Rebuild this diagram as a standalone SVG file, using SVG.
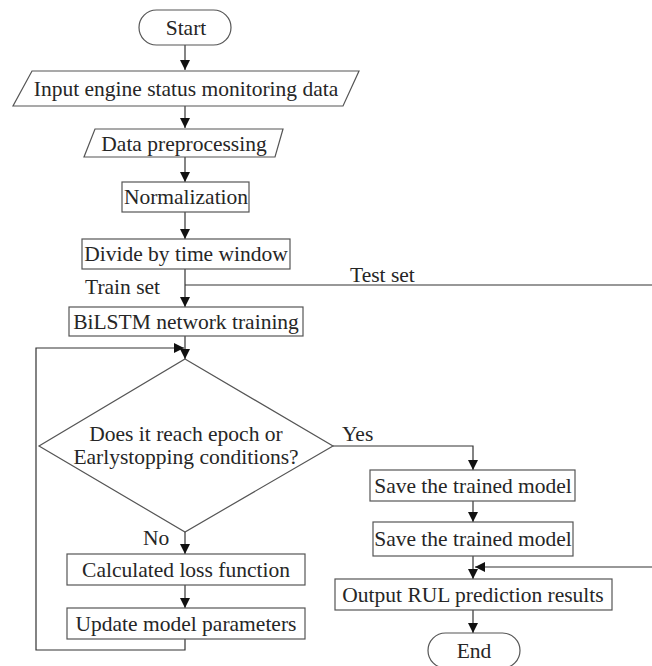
<svg xmlns="http://www.w3.org/2000/svg" width="652" height="666" viewBox="0 0 652 666">
<defs>
<marker id="ah" markerWidth="10" markerHeight="10" refX="10" refY="5" orient="auto" markerUnits="userSpaceOnUse">
<path d="M0,0 L10,5 L0,10 Z" fill="#111"/>
</marker>
</defs>
<style>
.n{fill:#fff;stroke:#555;stroke-width:1.2}
.t{font-family:"Liberation Serif","Times New Roman",serif;font-size:21.5px;fill:#262626;text-anchor:middle}
.l{font-family:"Liberation Serif","Times New Roman",serif;font-size:21.5px;fill:#262626}
.c{fill:none;stroke:#333;stroke-width:1.2}
</style>
<rect width="652" height="666" fill="#fff"/>
<g id="connectors">
<path class="c" d="M185,45 V70" marker-end="url(#ah)"/>
<path class="c" d="M185,106 V128" marker-end="url(#ah)"/>
<path class="c" d="M185,157 V182" marker-end="url(#ah)"/>
<path class="c" d="M185,212 V239" marker-end="url(#ah)"/>
<path class="c" d="M185,269 V307" marker-end="url(#ah)"/>
<path class="c" d="M185,285 H652"/>
<path class="c" d="M185,336 V359" marker-end="url(#ah)"/>
<path class="c" d="M185,639 V650 H36 V348 H184" marker-end="url(#ah)"/>
<path class="c" d="M185,532 V554" marker-end="url(#ah)"/>
<path class="c" d="M185,585 V608" marker-end="url(#ah)"/>
<path class="c" d="M333,446 H473 V470" marker-end="url(#ah)"/>
<path class="c" d="M473,501 V522" marker-end="url(#ah)"/>
<path class="c" d="M473,556 V579" marker-end="url(#ah)"/>
<path class="c" d="M652,567 H475" marker-end="url(#ah)"/>
<path class="c" d="M473,610 V633" marker-end="url(#ah)"/>
<text class="l" x="85" y="294">Train set</text>
<text class="l" x="350" y="282">Test set</text>
<text class="l" x="342" y="441">Yes</text>
<text class="l" x="143" y="545">No</text>
</g>
<g id="start">
<rect class="n" x="139" y="10" width="92" height="35" rx="17.5"/>
<text class="t" x="186" y="35">Start</text>
</g>
<g id="input">
<polygon class="n" points="32,71 359,71 343,106 13,106"/>
<text class="t" x="186" y="96">Input engine status monitoring data</text>
</g>
<g id="preprocess">
<polygon class="n" points="95,129 283,129 275,157 84,157"/>
<text class="t" x="184" y="151">Data preprocessing</text>
</g>
<g id="normalization">
<rect class="n" x="122" y="182" width="127" height="30"/>
<text class="t" x="186" y="204">Normalization</text>
</g>
<g id="divide">
<rect class="n" x="82" y="239" width="208" height="30"/>
<text class="t" x="186" y="261">Divide by time window</text>
</g>
<g id="bilstm">
<rect class="n" x="69" y="307" width="234" height="29"/>
<text class="t" x="186" y="329">BiLSTM network training</text>
</g>
<g id="decision">
<polygon class="n" points="185,359 333,446 185,532 39,446"/>
<text class="t" x="186" y="441">Does it reach epoch or</text>
<text class="t" x="186" y="464">Earlystopping conditions?</text>
</g>
<g id="loss">
<rect class="n" x="67" y="554" width="238" height="31"/>
<text class="t" x="186" y="577">Calculated loss function</text>
</g>
<g id="update">
<rect class="n" x="67" y="608" width="238" height="31"/>
<text class="t" x="186" y="631">Update model parameters</text>
</g>
<g id="save1">
<rect class="n" x="370" y="470" width="205" height="31"/>
<text class="t" x="473" y="493">Save the trained model</text>
</g>
<g id="save2">
<rect class="n" x="373" y="522" width="200" height="34"/>
<text class="t" x="473" y="546">Save the trained model</text>
</g>
<g id="output">
<rect class="n" x="335" y="579" width="277" height="31"/>
<text class="t" x="473" y="602">Output RUL prediction results</text>
</g>
<g id="end">
<rect class="n" x="428" y="633" width="92" height="35" rx="17.5"/>
<text class="t" x="474" y="658">End</text>
</g>
</svg>
